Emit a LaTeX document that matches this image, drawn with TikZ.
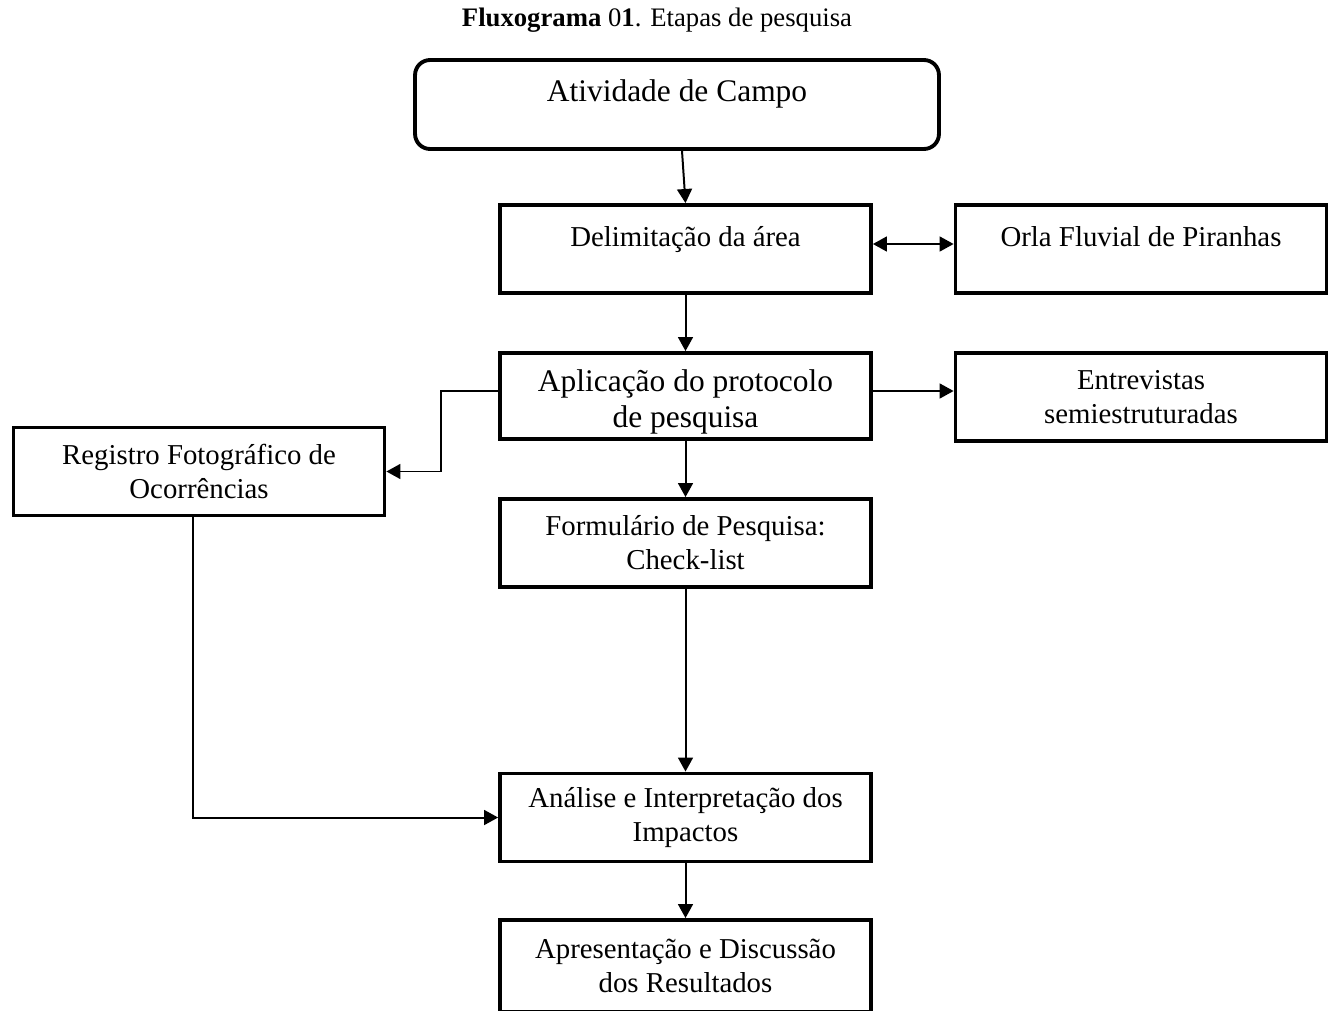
\documentclass[tikz,border=0pt]{standalone}
\usepackage{fontspec}
\setmainfont{Liberation Serif}
\usetikzlibrary{arrows.meta}
\begin{document}
\begin{tikzpicture}[x=0.02cm,y=-0.02cm,
  box/.style={draw,line width=2.2pt,minimum width=7.42cm,minimum height=1.76cm,align=center,inner sep=0pt,font=\fontsize{16.4}{19.3}\selectfont},
  big/.style={font=\fontsize{17.9}{20.5}\selectfont},
  oneline/.style={text height=12pt,text depth=15.4pt},
  link/.style={line width=1.13pt,-{Triangle[length=8pt,width=8.5pt]}}]
  \useasboundingbox (0,0) rectangle (1337,1010);
  \node[font=\fontsize{15.2}{18}\selectfont] (title) at (657,20) {\textbf{Fluxograma} 0\textbf{1}. Etapas de pesquisa};
  \node[box,big,oneline,rounded corners=0.3cm,minimum width=10.48cm,minimum height=1.78cm] (campo) at (677,104.5) {Atividade de Campo};
  \node[box,oneline] (delim) at (685.5,249) {Delimitação da área};
  \node[box,oneline] (orla) at (1141,249) {Orla Fluvial de Piranhas};
  \node[box,big,minimum height=1.72cm] (aplic) at (685.5,396) {\rule{0pt}{19.5pt}Aplicação do protocolo\\de pesquisa};
  \node[box] (entrev) at (1141,397) {Entrevistas\\semiestruturadas};
  \node[box] (foto) at (199,471.5) {Registro Fotográfico de\\Ocorrências};
  \node[box] (form) at (685.5,543) {Formulário de Pesquisa:\\Check-list};
  \node[box] (anal) at (685.5,817.5) {Análise e Interpretação dos\\Impactos};
  \node[box,minimum height=1.84cm] (apres) at (685.5,966) {Apresentação e Discussão\\dos Resultados};
  \draw[link] ([xshift=0.1cm]campo.south) -- (delim.north);
  \draw[line width=1.13pt,{Triangle[length=8pt,width=8.5pt]}-{Triangle[length=8pt,width=8.5pt]}] ([yshift=0.1cm]delim.east) -- ([yshift=0.1cm]orla.west);
  \draw[link] (delim) -- (aplic);
  \draw[link] ([yshift=0.1cm]aplic.east) -- ([yshift=0.1cm]aplic.east -| entrev.west);
  \draw[link] ([yshift=0.1cm]aplic.west) -- ++(-57,0) |- (foto.east);
  \draw[link] (aplic) -- (form);
  \draw[link] (form) -- (anal);
  \draw[link] ([xshift=-0.12cm]foto.south) |- (anal.west);
  \draw[link] (anal) -- (apres);
\end{tikzpicture}
\end{document}
